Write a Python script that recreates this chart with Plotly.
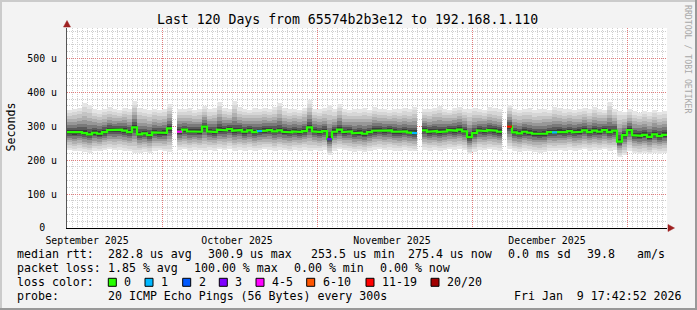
import plotly.graph_objects as go
from datetime import datetime, timedelta

# ---------------- data ----------------
START = datetime(2025, 9, 12)
N_DAYS = 120
END = START + timedelta(days=N_DAYS)

# daily median RTT (microseconds); None = no data (100 % loss)
median_us = [
    283, 281, 283, 280, 276, 281, 278, 283, 289, 288,
    290, 287, 283, 297, 276, 279, 274, 282, 280, 281,
    294, None, 284, 290, 285, 286, 284, 299, 285, 283,
    290, 288, 292, 287, 289, 284, 288, 283, 286, 287,
    289, 285, 288, 284, 282, 285, 283, 286, 297, 285,
    283, 286, 262, 284, 290, 283, 285, 279, 281, 278,
    283, 287, 288, 286, 288, 284, 283, 285, 282, 280,
    None, 288, 284, 286, 283, 285, 289, 287, 290, 285,
    268, 280, 288, 286, 289, 287, 284, None, 299, 282,
    279, 284, 281, 278, 277, 278, 283, 282, 284, 283,
    286, 282, 284, 288, 283, 287, 284, 289, 283, 287,
    255, 274, 289, 274, 272, 275, 269, 276, 271, 275,
]
# daily smoke envelope (slowest / fastest ping), microseconds
smoke_hi_us = [
    348, 352, 355, 368, 362, 350, 347, 352, 356, 350,
    348, 355, 352, 375, 354, 350, 348, 352, 349, 351,
    365, None, 352, 350, 354, 348, 351, 360, 350, 353,
    372, 355, 350, 375, 356, 352, 349, 353, 350, 355,
    351, 358, 370, 354, 350, 352, 349, 355, 377, 352,
    350, 354, 362, 350, 366, 352, 348, 351, 350, 353,
    349, 356, 352, 350, 348, 352, 350, 354, 351, 358,
    None, 352, 350, 355, 360, 352, 349, 354, 358, 352,
    350, 355, 351, 349, 356, 353, 350, None, 362, 352,
    349, 351, 353, 348, 350, 352, 349, 358, 354, 350,
    352, 349, 351, 354, 350, 358, 352, 349, 372, 352,
    345, 342, 350, 344, 340, 346, 342, 348, 343, 345,
]
smoke_lo_us = [
    230, 226, 228, 224, 222, 228, 226, 230, 232, 229,
    231, 228, 226, 220, 222, 225, 221, 227, 229, 226,
    224, None, 230, 232, 228, 231, 229, 226, 230, 228,
    232, 229, 233, 227, 230, 228, 231, 227, 229, 232,
    230, 227, 231, 229, 226, 230, 228, 231, 226, 229,
    227, 230, 215, 228, 232, 229, 227, 224, 226, 223,
    227, 230, 232, 229, 231, 228, 227, 230, 228, 226,
    None, 231, 228, 230, 227, 229, 232, 230, 233, 229,
    218, 224, 231, 229, 232, 230, 228, None, 232, 227,
    224, 228, 226, 223, 222, 224, 228, 227, 229, 228,
    231, 227, 229, 232, 228, 231, 229, 232, 228, 230,
    210, 214, 226, 220, 218, 221, 217, 222, 219, 221,
]
# days where the median had lost pings (day index -> pings lost of 20)
lost_pings_by_day = {22: 4, 38: 1, 52: 3, 69: 1, 88: 12, 97: 1}

# smoke shading levels (fraction of the envelope spread around the median)
band_fraction = [1.0, 0.86, 0.72, 0.58, 0.45, 0.32, 0.2, 0.1]
band_gray = ["#e5e5e5", "#d6d6d6", "#c4c4c4", "#b0b0b0",
             "#979797", "#7a7a7a", "#5a5a5a", "#3c3c3c"]

loss_labels = ["0", "1", "2", "3", "4-5", "6-10", "11-19", "20/20"]
loss_upper = [0, 1, 2, 3, 5, 10, 19, 20]
loss_colors = ["#26ff00", "#00b8ff", "#0059ff", "#7e00ff", "#ff00ff",
               "#ff5500", "#ff0000", "#a10000"]

y_tick_vals = [0, 100, 200, 300, 400, 500]
y_tick_text = ["0\u00a0\u00a0", "100 u", "200 u", "300 u", "400 u", "500 u"]
month_label_dates = ["2025-09-16", "2025-10-16", "2025-11-16", "2025-12-17"]
month_label_text = ["September 2025", "October 2025", "November 2025", "December 2025"]
month_grid_dates = ["2025-10-01", "2025-11-01", "2025-12-02", "2026-01-02"]

title_text = "Last 120 Days from 65574b2b3e12 to 192.168.1.110"
stats_row1 = [(16, "median rtt:"), (107.3, "282.8 us avg"), (207.3, "300.9 us max"),
              (310, "253.5 us min"), (407.3, "275.4 us now"), (507.3, "0.0 ms sd"),
              (586, "39.8"), (635.7, "am/s")]
stats_row2 = [(16, "packet loss:"), (107.3, "1.85 % avg"), (193.3, "100.00 % max"),
              (293.3, "0.00 % min"), (379.3, "0.00 % now")]
probe_row = [(16, "probe:"), (107.3, "20 ICMP Echo Pings (56 Bytes) every 300s"),
             (513.3, "Fri Jan  9 17:42:52 2026")]

# ---------------- layout geometry ----------------
W, H = 697, 310
PL, PR, PT, PB = 67, 667, 28, 228
FONT = "DejaVu Sans Mono"


def px2x(px):
    return (px - PL) / (PR - PL)


def px2y(py):
    return (PB - py) / (PB - PT)


def nb(s):
    return s.replace(" ", "\u00a0")


day_starts = [START + timedelta(days=i) for i in range(N_DAYS)]
day_centers = [d + timedelta(hours=12) for d in day_starts]
DAY_MS = 86400000

fig = go.Figure()

# smoke
for f, col in zip(band_fraction, band_gray):
    lo, hgt = [], []
    for m, l, h in zip(median_us, smoke_lo_us, smoke_hi_us):
        if m is None:
            lo.append(None)
            hgt.append(None)
        else:
            a = m - (m - l) * f
            b = m + (h - m) * f
            lo.append(a)
            hgt.append(b - a)
    fig.add_trace(go.Bar(x=day_centers, y=hgt, base=lo, width=DAY_MS,
                         marker=dict(color=col, line=dict(width=0)),
                         hoverinfo="skip", showlegend=False))

# median line as per-day steps
mx, my = [], []
for i, m in enumerate(median_us):
    if m is None:
        mx.append(day_starts[i])
        my.append(None)
    else:
        mx += [day_starts[i], day_starts[i] + timedelta(days=1)]
        my += [m, m]
fig.add_trace(go.Scatter(x=mx, y=my, mode="lines", connectgaps=False,
                         line=dict(color=loss_colors[0], width=2.2),
                         hoverinfo="skip", showlegend=False))

# loss-coloured median pieces
for ci in range(1, len(loss_upper)):
    xs, ys = [], []
    for d, n in lost_pings_by_day.items():
        cat = next(k for k, u in enumerate(loss_upper) if n <= u)
        if cat == ci and median_us[d] is not None:
            xs += [day_starts[d], day_starts[d] + timedelta(days=1), None]
            ys += [median_us[d], median_us[d], None]
    if xs:
        fig.add_trace(go.Scatter(x=xs, y=ys, mode="lines",
                                 line=dict(color=loss_colors[ci], width=2.2),
                                 hoverinfo="skip", showlegend=False))

grid_dash = "1px,1px"
fig.update_layout(
    width=W, height=H,
    margin=dict(l=PL, r=W - PR, t=PT, b=H - PB, pad=0),
    paper_bgcolor="#f3f3f3", plot_bgcolor="#ffffff",
    barmode="overlay", bargap=0, showlegend=False,
    font=dict(family=FONT, color="#000000"),
    xaxis=dict(
        type="date", range=[START, END], showgrid=False, zeroline=False,
        tickmode="array", tickvals=month_label_dates, ticktext=month_label_text,
        ticks="", ticklabelstandoff=3, tickfont=dict(size=9.9, family=FONT),
        showline=True, linecolor="#000000", linewidth=1,
        minor=dict(tickmode="linear", tick0="2025-09-12", dtick=DAY_MS,
                   showgrid=True, gridcolor="#cfcfcf", griddash=grid_dash, gridwidth=1,
                   ticks=""),
    ),
    xaxis2=dict(
        type="date", range=[START, END], overlaying="x", anchor="y",
        tickmode="array", tickvals=month_grid_dates, showticklabels=False,
        showgrid=True, gridcolor="rgba(235,70,70,0.6)", griddash=grid_dash, gridwidth=1,
        ticks="", zeroline=False, showline=False,
    ),
    yaxis=dict(
        range=[0, 590], tickmode="array", tickvals=y_tick_vals, ticktext=y_tick_text,
        ticks="", ticklabelstandoff=7, tickfont=dict(size=9.9, family=FONT),
        showgrid=True, gridcolor="rgba(235,70,70,0.6)", griddash=grid_dash, gridwidth=1,
        zeroline=False, showline=True, linecolor="#555555", linewidth=1,
        minor=dict(tickmode="linear", tick0=0, dtick=20, showgrid=True,
                   gridcolor="#cfcfcf", griddash=grid_dash, gridwidth=1, ticks=""),
    ),
)
# dummy trace so xaxis2 is drawn
fig.add_trace(go.Scatter(x=[START], y=[None], xaxis="x2", yaxis="y",
                         showlegend=False, hoverinfo="skip"))

ann = []


def label(px, py, text, size=11.6, color="#000000", xanchor="left", angle=0):
    ann.append(dict(xref="paper", yref="paper", x=px2x(px), y=px2y(py),
                    text=nb(text), showarrow=False, xanchor=xanchor,
                    yanchor="middle", textangle=angle, borderpad=0,
                    font=dict(family=FONT, size=size, color=color)))


label(347.3, 19, title_text, size=13.2, xanchor="center")
label(10, 127.5, "Seconds", size=11.6, xanchor="center", angle=-90)
label(688, 59, "RRDTOOL / TOBI OETIKER", size=8.2, color="#a8a8a8",
      xanchor="center", angle=90)
for px, t in stats_row1:
    label(px, 254.3, t)
for px, t in stats_row2:
    label(px, 268.3, t)
label(16, 282.3, "loss color:")
for px, t in probe_row:
    label(px, 296, t)

loss_box_x = [108.3, 145, 182.7, 219.3, 256, 306.7, 366, 431]
shapes = []
for bx, lab, col in zip(loss_box_x, loss_labels, loss_colors):
    shapes.append(dict(type="rect", xref="paper", yref="paper",
                       x0=px2x(bx), x1=px2x(bx + 8), y0=px2y(278.3), y1=px2y(286.3),
                       fillcolor=col, line=dict(color="#000000", width=1)))
    label(bx + 15, 282.3, lab)

# axis arrows
ARROW = "#9e2020"
shapes.append(dict(type="path", xref="paper", yref="paper", xsizemode="pixel",
                   ysizemode="pixel", xanchor=0, yanchor=1,
                   path="M -3.5,1 L 3.5,1 L 0,7.5 Z", fillcolor=ARROW,
                   line=dict(color=ARROW, width=0.5)))
shapes.append(dict(type="path", xref="paper", yref="paper", xsizemode="pixel",
                   ysizemode="pixel", xanchor=1, yanchor=0,
                   path="M 1,-3.5 L 1,3.5 L 7.5,0 Z", fillcolor=ARROW,
                   line=dict(color=ARROW, width=0.5)))
# frame
for (x0, x1, y0, y1, c) in [(0, W, 0, 2, "#cbcbcb"), (0, 2, 0, H, "#cbcbcb"),
                             (W - 2, W, 0, H, "#999999"), (0, W, H - 2, H, "#999999")]:
    shapes.append(dict(type="rect", xref="paper", yref="paper",
                       x0=px2x(x0), x1=px2x(x1), y0=px2y(y0), y1=px2y(y1),
                       fillcolor=c, line=dict(width=0), layer="above"))

fig.update_layout(annotations=ann, shapes=shapes)
fig.write_html("out.html")
